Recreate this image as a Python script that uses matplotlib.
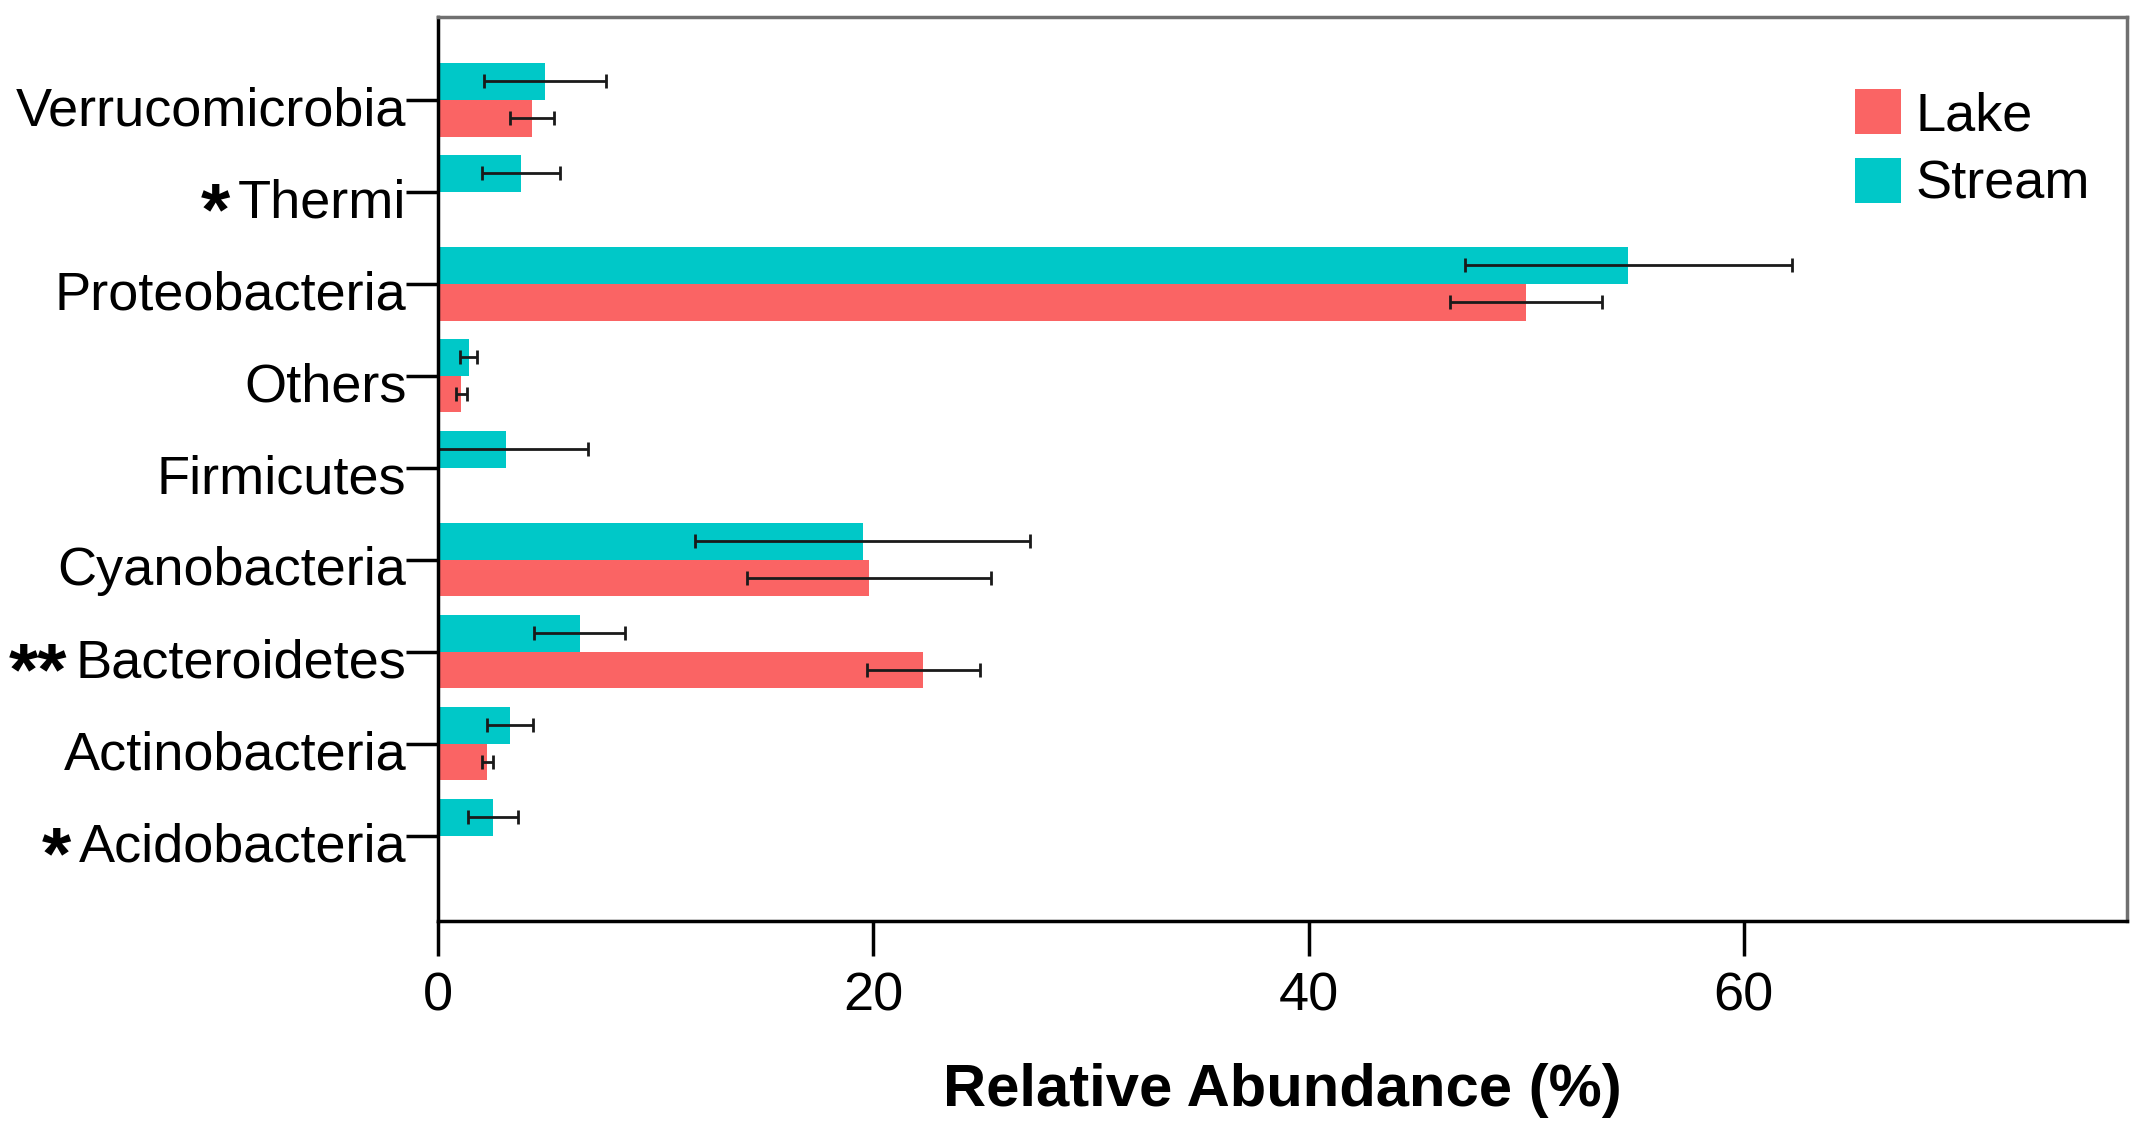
import numpy as np
import matplotlib
matplotlib.use('Agg')
from matplotlib import pyplot as plt
from matplotlib.transforms import ScaledTranslation

# phyla, bottom to top as drawn
phyla = ['Acidobacteria', 'Actinobacteria', 'Bacteroidetes', 'Cyanobacteria',
         'Firmicutes', 'Others', 'Proteobacteria', 'Thermi', 'Verrucomicrobia']
stars = ['*', '', '**', '', '', '', '', '*', '']
lake = [0.0, 2.25, 22.3, 19.8, 0.0, 1.05, 50.0, 0.0, 4.3]
lake_err = [0.0, 0.25, 2.6, 5.6, 0.0, 0.25, 3.5, 0.0, 1.0]
stream = [2.5, 3.3, 6.5, 19.5, 3.1, 1.4, 54.7, 3.8, 4.9]
stream_err = [1.15, 1.05, 2.1, 7.7, 3.8, 0.4, 7.5, 1.8, 2.8]

plt.rcParams['font.family'] = ['Liberation Sans', 'DejaVu Sans']

fig = plt.figure(figsize=(21.33, 11.33), dpi=100)
ax = fig.add_axes([0.2055, 0.187, 0.7915, 0.798])

y = np.arange(len(phyla))
h = 0.4
ax.barh(y + h / 2, stream, height=h, color='#00C8C8', label='Stream')
ax.barh(y - h / 2, lake, height=h, color='#FA6464', label='Lake')
ax.errorbar(stream, y + h / 2, xerr=stream_err, fmt='none', ecolor='#1a1a1a',
            elinewidth=2, capsize=5, capthick=2)
ax.errorbar(lake, y - h / 2, xerr=lake_err, fmt='none', ecolor='#1a1a1a',
            elinewidth=2, capsize=5, capthick=2)

ax.set_xlim(0, 77.6)
ax.set_ylim(-0.93, 8.9)
ax.set_yticks(y)
ax.set_yticklabels(phyla, fontsize=39)
ax.set_xticks([0, 20, 40, 60])
ax.tick_params(axis='x', labelsize=39, length=25, width=2.5, pad=11)
ax.tick_params(axis='y', length=23, width=2.5, pad=0)
ax.set_xlabel('Relative Abundance (%)', fontsize=43, fontweight='bold', labelpad=30)

# labels sit a little below the tick line in the original
shift = ScaledTranslation(0, -6 / 100, fig.dpi_scale_trans)
for lab in ax.get_yticklabels():
    lab.set_transform(lab.get_transform() + shift)

for s in ['left', 'bottom']:
    ax.spines[s].set_color('black')
    ax.spines[s].set_linewidth(2.5)
for s in ['top', 'right']:
    ax.spines[s].set_color('#707070')
    ax.spines[s].set_linewidth(2.5)

hs, ls = ax.get_legend_handles_labels()
ax.legend(hs[::-1], ls[::-1], loc='upper left', bbox_to_anchor=(0.839, 0.92),
          frameon=False, fontsize=39, borderpad=0, handlelength=0.85,
          handleheight=0.9, handletextpad=0.28, labelspacing=0.3,
          borderaxespad=0)

# significance stars in front of the labels
fig.canvas.draw()
r = fig.canvas.get_renderer()
for lab, st in zip(ax.get_yticklabels(), stars):
    if not st:
        continue
    bb = lab.get_window_extent(r)
    _, _, d = r.get_text_width_height_descent('lp', lab.get_fontproperties(), ismath=False)
    base = bb.y0 + d
    fig.text((bb.x0 - 8) / fig.bbox.width, (base - 17) / fig.bbox.height, st,
             ha='right', va='baseline', fontsize=54, fontweight='bold')

plt.savefig('out.png', dpi=100)
